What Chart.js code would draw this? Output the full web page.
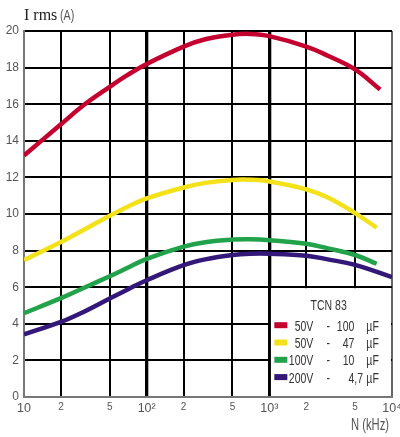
<!DOCTYPE html>
<html>
<head>
<meta charset="utf-8">
<script src="https://cdn.jsdelivr.net/npm/chart.js@4.4.1/dist/chart.umd.min.js"></script>
<style>
  html, body { margin: 0; padding: 0; background: #fff; }
  #wrap { width: 400px; height: 437px; }
</style>
</head>
<body>
<div id="wrap"><canvas id="chart"></canvas></div>
<script>
/* ---------- data (kHz / A) ---------- */
const freqRed    = [10, 20, 30, 50, 70, 100, 200, 300, 500, 700, 1000, 2000, 3000, 5000, 8000];
const ampRed     = [13.2, 14.9, 15.9, 16.95, 17.6, 18.2, 19.15, 19.55, 19.8, 19.84, 19.72, 19.15, 18.65, 17.9, 16.8];

const freqYellow = [10, 20, 30, 50, 70, 100, 200, 300, 500, 700, 1000, 2000, 3000, 5000, 7500];
const ampYellow  = [7.48, 8.47, 9.1, 9.9, 10.4, 10.85, 11.45, 11.7, 11.86, 11.87, 11.78, 11.35, 10.9, 10.05, 9.25];

const freqGreen  = [10, 20, 30, 50, 70, 100, 200, 300, 500, 700, 1000, 2000, 3000, 5000, 7500];
const ampGreen   = [4.58, 5.4, 5.93, 6.6, 7.06, 7.55, 8.22, 8.46, 8.6, 8.62, 8.57, 8.37, 8.12, 7.76, 7.28];

const freqPurple = [10, 20, 30, 50, 70, 100, 200, 300, 500, 700, 1000, 2000, 3000, 5000, 10000];
const ampPurple  = [3.42, 4.1, 4.62, 5.38, 5.88, 6.38, 7.2, 7.52, 7.76, 7.83, 7.83, 7.72, 7.52, 7.22, 6.55];

const xTickValues = [10, 20, 50, 100, 200, 500, 1000, 2000, 5000, 10000];
const xTickLabels = ['10', '2', '5', '10\u00B2', '2', '5', '10\u00B3', '2', '5', '10\u2074'];
const yTickValues = [0, 2, 4, 6, 8, 10, 12, 14, 16, 18, 20];

const legendTitle = 'TCN 83';
const legendVolts = ['50V', '50V', '100V', '200V'];
const legendCaps  = ['100', '47', '10', '4,7'];
const legendUnit  = '\u00B5F';

const colors = ['#c4002f', '#f3e21a', '#22a24a', '#33187a'];

const SANS = '"Liberation Sans", Arial, sans-serif';
const decades = [10, 100, 1000, 10000];

function pts(xs, ys) { return xs.map((v, i) => ({ x: v, y: ys[i] })); }

/* ---------- helpers ---------- */
function txt(ctx, s, x, y, align, size, family, color, sx) {
  ctx.save();
  ctx.translate(x, y);
  ctx.scale(sx || 1, 1);
  ctx.font = size + 'px ' + family;
  ctx.fillStyle = color;
  ctx.textAlign = align;
  ctx.textBaseline = 'alphabetic';
  ctx.fillText(s, 0, 0);
  ctx.restore();
}

/* ---------- legend box + titles ---------- */
const extras = {
  id: 'extras',
  beforeDatasetsDraw(chart) {
    const { ctx, chartArea: a, scales: { x, y } } = chart;
    const L = x.getPixelForValue(1000) + 1.6;
    const T = y.getPixelForValue(6) + 1;
    ctx.save();
    ctx.fillStyle = '#fff';
    ctx.fillRect(L, T, a.right - 1 - L, a.bottom - 1 - T);
    ctx.restore();
  },
  afterDraw(chart) {
    const { ctx, chartArea: a, scales: { x, y } } = chart;
    const L = x.getPixelForValue(1000);
    const T = y.getPixelForValue(6);
    const sx = 0.7, fs = 15, col = '#333';

    txt(ctx, legendTitle, (L + a.right) / 2 - 2, T + 23, 'center', fs, SANS, col, sx);
    legendVolts.forEach((v, i) => {
      const cy = T + 38 + i * 17.3;
      ctx.fillStyle = colors[i];
      ctx.fillRect(L + 5, cy - 3, 13, 6);
      const base = cy + 5.5;
      txt(ctx, v, L + 44, base, 'right', fs, SANS, col, sx);
      txt(ctx, '-', L + 59, base, 'center', fs, SANS, col, sx);
      const parts = legendCaps[i].split(',');
      txt(ctx, parts[0], L + 85, base, 'right', fs, SANS, col, sx);
      if (parts[1]) txt(ctx, ',' + parts[1], L + 85, base, 'left', fs, SANS, col, sx);
      txt(ctx, legendUnit, L + 97, base, 'left', fs, SANS, col, sx);
    });

    // axis titles
    txt(ctx, 'I rms', 24, 20, 'left', 16, '"Liberation Serif", "Times New Roman", serif', '#222', 1);
    txt(ctx, '(A)', 60, 20, 'left', 15, SANS, '#555', 0.72);
    txt(ctx, 'N (kHz)', 389, 430, 'right', 16, SANS, '#555', 0.7);
  }
};

/* ---------- chart ---------- */
const mk = (xs, ys, c) => ({
  data: pts(xs, ys),
  borderColor: c,
  borderWidth: 4.5,
  pointRadius: 0,
  fill: false,
  tension: 0.4
});

new Chart(document.getElementById('chart'), {
  type: 'line',
  data: {
    datasets: [
      mk(freqRed, ampRed, colors[0]),
      mk(freqYellow, ampYellow, colors[1]),
      mk(freqGreen, ampGreen, colors[2]),
      mk(freqPurple, ampPurple, colors[3])
    ]
  },
  options: {
    responsive: true,
    maintainAspectRatio: false,
    animation: false,
    layout: { padding: { top: 31, right: 8, left: 0, bottom: 0 } },
    plugins: { legend: { display: false }, tooltip: { enabled: false } },
    scales: {
      x: {
        type: 'logarithmic',
        min: 10, max: 10000,
        afterBuildTicks: s => { s.ticks = xTickValues.map(v => ({ value: v })); },
        afterFit: s => { s.height = 40; s.paddingLeft = 0; s.paddingRight = 0; },
        grid: {
          drawTicks: false,
          color: c => (c.tick && (c.tick.value === 10 || c.tick.value === 10000)) ? '#666' : '#000',
          lineWidth: c => (c.tick && (c.tick.value === 100 || c.tick.value === 1000)) ? 3.3 : 2
        },
        border: { color: '#777', width: 2 },
        ticks: {
          autoSkip: false,
          maxRotation: 0,
          padding: 4,
          color: '#555',
          callback: (v, i) => xTickLabels[i],
          font: c => ({ family: SANS, size: (c.tick && decades.includes(c.tick.value)) ? 12.5 : 10 })
        }
      },
      y: {
        min: 0, max: 20,
        afterBuildTicks: s => { s.ticks = yTickValues.map(v => ({ value: v })); },
        afterFit: s => { s.width = 24; s.paddingTop = 0; s.paddingBottom = 0; },
        grid: {
          drawTicks: false,
          color: c => (c.tick && c.tick.value === 0) ? '#777' : '#000',
          lineWidth: 2
        },
        border: { color: '#777', width: 2 },
        ticks: {
          padding: 5,
          color: '#555',
          font: { family: SANS, size: 12 }
        }
      }
    }
  },
  plugins: [extras]
});
</script>
</body>
</html>
